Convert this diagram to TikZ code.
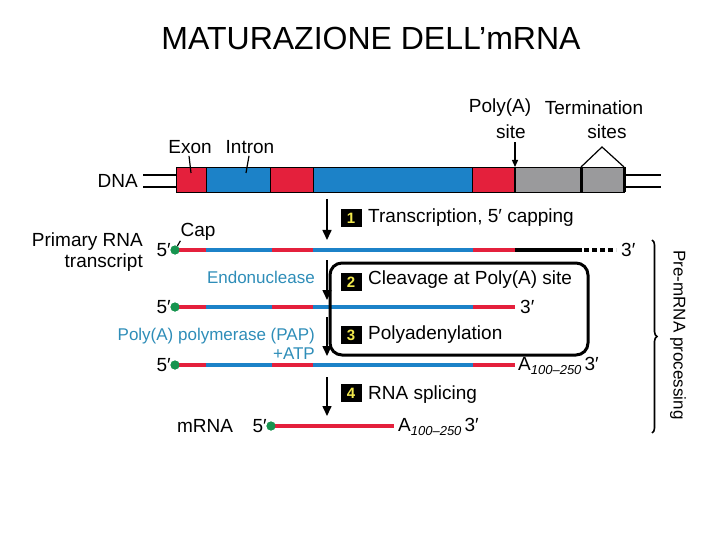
\documentclass[tikz,border=0pt]{standalone}
\usepackage{fontspec}
\setmainfont{Liberation Sans}
\usetikzlibrary{arrows.meta,decorations.pathreplacing}
\definecolor{exred}{HTML}{E4203C}
\definecolor{inblue}{HTML}{1C82C8}
\definecolor{labblue}{HTML}{2E8DB8}
\definecolor{dgray}{HTML}{9A9A9C}
\definecolor{capgreen}{HTML}{17944F}
\definecolor{numyel}{HTML}{F2E94E}
\newcommand{\subA}{A\raisebox{-4pt}{\fontsize{13}{13}\selectfont\itshape 100–250}}
\begin{document}
\begin{tikzpicture}[x=1pt,y=-1pt,
  lab/.style={font=\fontsize{19}{21}\selectfont, inner sep=0},
  blab/.style={font=\fontsize{17}{20}\selectfont, text=labblue, inner sep=0},
  numbox/.style={fill=black, text=numyel, font=\fontsize{15}{15}\selectfont\bfseries, minimum width=21, minimum height=18, inner sep=0},
  rnaline/.style={line width=4},
  stepar/.style={-{Triangle[length=10,width=9]}, line width=1.6},
  smallar/.style={-{Triangle[length=7,width=6]}, line width=1.3},
  capdot/.style={circle, fill=capgreen, minimum size=9, inner sep=0},
  seg/.style={draw=black, line width=0.8}]
\useasboundingbox (0,0) rectangle (720,540);

% title
\node[font=\fontsize{32}{36}\selectfont, inner sep=0] (title) at (371,38) {MATURAZIONE DELL’mRNA};

% DNA
\draw[line width=2.5] (143,175) -- (176,175) (143,187) -- (176,187);
\draw[line width=2.5] (624,175) -- (661,175) (624,187) -- (661,187);
\draw[seg, fill=exred] (176,167) rectangle (206,192);
\draw[seg, fill=inblue] (206,167) rectangle (270,192);
\draw[seg, fill=exred] (270,167) rectangle (313,192);
\draw[seg, fill=inblue] (313,167) rectangle (472,192);
\draw[seg, fill=exred] (472,167) rectangle (515,192);
\draw[seg, fill=dgray] (515,167) rectangle (581,192);
\draw[seg, fill=dgray] (581,167) rectangle (624,192);
\draw[line width=2] (515,167) -- (515,192);
\draw[line width=3] (581,167) -- (581,192);
\draw[line width=3] (624,167) -- (624,192);
\coordinate (pa) at (515,167);
\coordinate (t1) at (581,167);
\coordinate (t2) at (624,167);
\coordinate (ex) at (191,173);
\coordinate (in) at (246,173);

\node[lab, anchor=east] (dna) at (138,181) {DNA};
\node[lab] (exon) at (190,147) {Exon};
\node[lab] (intron) at (250,147) {Intron};
\draw[line width=1.2] (exon.south) ++(-1,2) -- (ex);
\draw[line width=1.2] (intron.south) ++(-1,2) -- (in);
\node[lab] (polya) at (500,108) {Poly(A)};
\node[lab] (site) at (511,132) {site};
\node[lab] (term) at (594,108) {Termination};
\node[lab] (sites) at (607,132) {sites};
\draw[smallar] (pa |- site.south) ++(0,3) -- (pa);
\draw[line width=1.2] (t1) -- (602,147) -- (t2);

% RNA line 1
\node[capdot] (d1) at (175,250) {};
\draw[rnaline, exred] (d1.center) -- (206,250);
\draw[rnaline, inblue] (206,250) -- (272,250);
\draw[rnaline, exred] (272,250) -- (313,250);
\draw[rnaline, inblue] (313,250) -- (473,250);
\draw[rnaline, exred] (473,250) -- (515,250);
\draw[rnaline, black] (515,250) -- (582,250);
\draw[rnaline, black, dash pattern=on 5 off 3] (584,250) -- (616,250);
\node[capdot] at (175,250) {};
\node[lab, anchor=west] (e1) at (621,250) {3′};
\node[lab, anchor=east] (prim) at (143,242) {Primary RNA};
\node[lab, anchor=east] (transc) at (143,263) {transcript};
\node[lab, anchor=east] (f1) at (171,250) {5′};
\node[lab] (cap) at (198,232) {Cap};
\draw[line width=1.2] (d1) -- (cap.south west);

% RNA line 2
\node[capdot] (d2) at (175,307) {};
\draw[rnaline, exred] (d2.center) -- (206,307);
\draw[rnaline, inblue] (206,307) -- (272,307);
\draw[rnaline, exred] (272,307) -- (313,307);
\draw[rnaline, inblue] (313,307) -- (473,307);
\draw[rnaline, exred] (473,307) -- (515,307);
\node[capdot] at (175,307) {};
\node[lab, anchor=west] (e2) at (520,307) {3′};
\node[lab, anchor=east] (f2) at (171,307) {5′};

% RNA line 3
\node[capdot] (d3) at (175,365) {};
\draw[rnaline, exred] (d3.center) -- (206,365);
\draw[rnaline, inblue] (206,365) -- (272,365);
\draw[rnaline, exred] (272,365) -- (313,365);
\draw[rnaline, inblue] (313,365) -- (473,365);
\draw[rnaline, exred] (473,365) -- (515,365);
\node[capdot] at (175,365) {};
\node[lab, anchor=west] (e3) at (518,366) {\subA\,3′};
\node[lab, anchor=east] (f3) at (171,365) {5′};

% mRNA
\node[capdot] (d4) at (271,426) {};
\draw[rnaline, exred] (d4.center) -- (394,426);
\node[capdot] at (271,426) {};
\node[lab, anchor=west] (e4) at (398,427) {\subA\,3′};
\node[lab, anchor=east] (f4) at (267,426) {5′};
\node[lab] (mrna) at (205,426) {mRNA};

% blue labels
\node[blab, anchor=east] (endo) at (315,277) {Endonuclease};
\node[blab, anchor=east] (pap) at (315,336) {Poly(A) polymerase (PAP)};
\node[blab, anchor=east] (atp) at (315,354) {+ATP};

% step arrows
\coordinate (a1s) at (327,199); \coordinate (a1e) at (327,240);
\coordinate (a2s) at (327,260); \coordinate (a2e) at (327,300);
\coordinate (a3s) at (327,317); \coordinate (a3e) at (327,356);
\coordinate (a4s) at (327,377); \coordinate (a4e) at (327,416);
\draw[stepar] (a1s) -- (a1e);
\draw[stepar] (a2s) -- (a2e);
\draw[stepar] (a3s) -- (a3e);
\draw[stepar] (a4s) -- (a4e);

\node[numbox] (n1) at (351,218) {1};
\node[numbox] (n2) at (351,282) {2};
\node[numbox] (n3) at (351,335) {3};
\node[numbox] (n4) at (351,393) {4};
\node[lab, anchor=west] (s1) at (368,218) {Transcription, 5′ capping};
\node[lab, anchor=west] (s2) at (368,280) {Cleavage at Poly(A) site};
\node[lab, anchor=west] (s3) at (368,335) {Polyadenylation};
\node[lab, anchor=west] (s4) at (368,395) {RNA splicing};

% highlight box
\draw[line width=3, rounded corners=12] (330,263) rectangle (588,355);

% brace
\draw[line width=1.6, decorate, decoration={brace, amplitude=5}] (652,240) -- (652,433);
\node[lab, rotate=-90, font=\fontsize{17}{20}\selectfont] (pre) at (678,335) {Pre-mRNA processing};
\end{tikzpicture}
\end{document}
